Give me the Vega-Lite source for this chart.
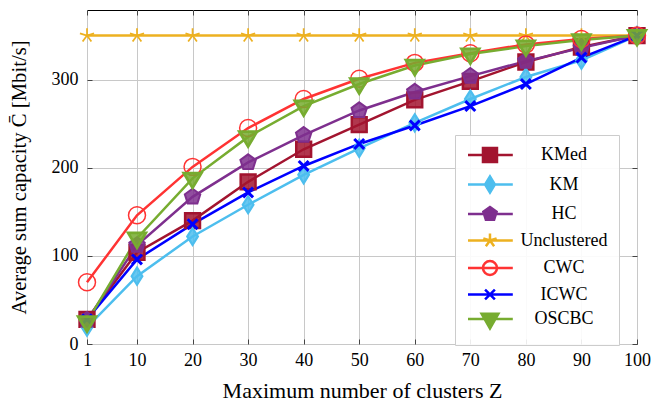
{
  "$schema": "https://vega.github.io/schema/vega-lite/v6.json",
  "width": 550,
  "height": 334,
  "autosize": {"type": "none"},
  "padding": {"left": 87, "top": 10, "right": 15, "bottom": 59},
  "background": "white",
  "config": {
    "font": "Liberation Serif",
    "view": {"stroke": "black", "strokeWidth": 1},
    "axis": {
      "labelFont": "Liberation Serif",
      "titleFont": "Liberation Serif",
      "labelFontSize": 18,
      "titleFontSize": 22,
      "titleFontWeight": "normal",
      "labelColor": "black",
      "titleColor": "black",
      "domain": false,
      "labelFlush": false,
      "gridColor": "#c8c8c8",
      "gridWidth": 1,
      "tickColor": "#444444",
      "tickSize": -5
    },
    "legend": {
      "labelFont": "Liberation Serif",
      "labelFontSize": 18,
      "labelColor": "black"
    }
  },
  "resolve": {"axis": {"x": "independent", "y": "independent"}},
  "data": {
    "values": [
      {"Z": 1, "method": "KMed", "C": 28}, {"Z": 10, "method": "KMed", "C": 104}, {"Z": 20, "method": "KMed", "C": 140}, {"Z": 30, "method": "KMed", "C": 184}, {"Z": 40, "method": "KMed", "C": 221}, {"Z": 50, "method": "KMed", "C": 249}, {"Z": 60, "method": "KMed", "C": 277}, {"Z": 70, "method": "KMed", "C": 298}, {"Z": 80, "method": "KMed", "C": 320}, {"Z": 90, "method": "KMed", "C": 337}, {"Z": 100, "method": "KMed", "C": 350},
      {"Z": 1, "method": "KM", "C": 19}, {"Z": 10, "method": "KM", "C": 77}, {"Z": 20, "method": "KM", "C": 122}, {"Z": 30, "method": "KM", "C": 158}, {"Z": 40, "method": "KM", "C": 192}, {"Z": 50, "method": "KM", "C": 222}, {"Z": 60, "method": "KM", "C": 251}, {"Z": 70, "method": "KM", "C": 278}, {"Z": 80, "method": "KM", "C": 303}, {"Z": 90, "method": "KM", "C": 322}, {"Z": 100, "method": "KM", "C": 350},
      {"Z": 1, "method": "HC", "C": 27}, {"Z": 10, "method": "HC", "C": 112}, {"Z": 20, "method": "HC", "C": 167}, {"Z": 30, "method": "HC", "C": 206}, {"Z": 40, "method": "HC", "C": 237}, {"Z": 50, "method": "HC", "C": 265}, {"Z": 60, "method": "HC", "C": 286}, {"Z": 70, "method": "HC", "C": 304}, {"Z": 80, "method": "HC", "C": 321}, {"Z": 90, "method": "HC", "C": 336}, {"Z": 100, "method": "HC", "C": 350},
      {"Z": 1, "method": "Unclustered", "C": 350}, {"Z": 10, "method": "Unclustered", "C": 350}, {"Z": 20, "method": "Unclustered", "C": 350}, {"Z": 30, "method": "Unclustered", "C": 350}, {"Z": 40, "method": "Unclustered", "C": 350}, {"Z": 50, "method": "Unclustered", "C": 350}, {"Z": 60, "method": "Unclustered", "C": 350}, {"Z": 70, "method": "Unclustered", "C": 350}, {"Z": 80, "method": "Unclustered", "C": 350}, {"Z": 90, "method": "Unclustered", "C": 350}, {"Z": 100, "method": "Unclustered", "C": 350},
      {"Z": 1, "method": "CWC", "C": 70}, {"Z": 10, "method": "CWC", "C": 146}, {"Z": 20, "method": "CWC", "C": 201}, {"Z": 30, "method": "CWC", "C": 245}, {"Z": 40, "method": "CWC", "C": 278}, {"Z": 50, "method": "CWC", "C": 301}, {"Z": 60, "method": "CWC", "C": 319}, {"Z": 70, "method": "CWC", "C": 330}, {"Z": 80, "method": "CWC", "C": 340}, {"Z": 90, "method": "CWC", "C": 346}, {"Z": 100, "method": "CWC", "C": 350},
      {"Z": 1, "method": "ICWC", "C": 28}, {"Z": 10, "method": "ICWC", "C": 96}, {"Z": 20, "method": "ICWC", "C": 136}, {"Z": 30, "method": "ICWC", "C": 172}, {"Z": 40, "method": "ICWC", "C": 202}, {"Z": 50, "method": "ICWC", "C": 227}, {"Z": 60, "method": "ICWC", "C": 248}, {"Z": 70, "method": "ICWC", "C": 270}, {"Z": 80, "method": "ICWC", "C": 295}, {"Z": 90, "method": "ICWC", "C": 325}, {"Z": 100, "method": "ICWC", "C": 350},
      {"Z": 1, "method": "OSCBC", "C": 25}, {"Z": 10, "method": "OSCBC", "C": 120}, {"Z": 20, "method": "OSCBC", "C": 188}, {"Z": 30, "method": "OSCBC", "C": 235}, {"Z": 40, "method": "OSCBC", "C": 270}, {"Z": 50, "method": "OSCBC", "C": 295}, {"Z": 60, "method": "OSCBC", "C": 316}, {"Z": 70, "method": "OSCBC", "C": 329}, {"Z": 80, "method": "OSCBC", "C": 338}, {"Z": 90, "method": "OSCBC", "C": 345}, {"Z": 100, "method": "OSCBC", "C": 350}
    ]
  },
  "layer": [
    {
      "mark": {"type": "line", "strokeWidth": 2.5, "clip": false},
      "encoding": {
        "x": {
          "field": "Z", "type": "quantitative",
          "scale": {"domain": [1, 100], "nice": false, "zero": false},
          "axis": {"values": [1, 10, 20, 30, 40, 50, 60, 70, 80, 90, 100], "title": "Maximum number of clusters Z", "labelPadding": 12, "titlePadding": 11}
        },
        "y": {
          "field": "C", "type": "quantitative",
          "scale": {"domain": [0, 379], "nice": false},
          "axis": {"values": [0, 100, 200, 300], "title": "Average sum capacity C̄ [Mbit/s]", "labelPadding": 14, "titlePadding": 22, "titleFontSize": 20.7}
        },
        "stroke": {
          "field": "method", "type": "nominal",
          "scale": {
            "domain": ["KMed", "KM", "HC", "Unclustered", "CWC", "ICWC", "OSCBC"],
            "range": ["#a2142f", "#4dbeee", "#7e2f8e", "#edb120", "#ff3333", "#0000ff", "#77ac30"]
          },
          "legend": {
            "title": null,
            "orient": "none",
            "legendX": 368,
            "legendY": 125,
            "padding": 11,
            "fillColor": "rgba(255,255,255,0.9)",
            "strokeColor": "#cccccc",
            "symbolSize": 196,
            "symbolStrokeWidth": 2.5,
            "symbolType": {"expr": "datum.value === 'KMed' ? 'M-1,0H5.4M1.14,-1H3.14V1H1.14Z' : datum.value === 'KM' ? 'M-1,0H5.4M2.14,-1.15L2.84,0L2.14,1.15L1.44,0Z' : datum.value === 'HC' ? 'M-1,0H5.4M2.14,-1L3.09,-0.31L2.73,0.81L1.55,0.81L1.19,-0.31Z' : datum.value === 'Unclustered' ? 'M-1,0H5.4M2.14,0V-1M2.14,0L3.09,-0.31M2.14,0L2.73,0.81M2.14,0L1.55,0.81M2.14,0L1.19,-0.31' : datum.value === 'CWC' ? 'M-1,0H5.4M3.14,0A1,1,0,1,1,1.14,0A1,1,0,1,1,3.14,0' : datum.value === 'ICWC' ? 'M-1,0H5.4M1.44,-0.7L2.84,0.7M1.44,0.7L2.84,-0.7' : 'M-1,0H5.4M0.94,-0.75L3.34,-0.75L2.14,1.35Z'"},
            "labelAlign": "center",
            "labelOffset": 80,
            "rowPadding": 3.5
          }
        }
      }
    },
    {
      "mark": {"type": "point", "clip": false, "opacity": 1, "fillOpacity": 0.85},
      "encoding": {
        "x": {
          "field": "Z", "type": "quantitative",
          "axis": {"orient": "top", "values": [1, 10, 20, 30, 40, 50, 60, 70, 80, 90, 100], "labels": false, "grid": false, "title": null}
        },
        "y": {
          "field": "C", "type": "quantitative",
          "axis": {"orient": "right", "values": [0, 100, 200, 300], "labels": false, "grid": false, "title": null}
        },
        "stroke": {"field": "method", "type": "nominal"},
        "fill": {
          "field": "method", "type": "nominal",
          "scale": {
            "domain": ["KMed", "KM", "HC", "Unclustered", "CWC", "ICWC", "OSCBC"],
            "range": ["#a2142f", "#4dbeee", "#7e2f8e", "transparent", "transparent", "transparent", "#77ac30"]
          },
          "legend": null
        },
        "shape": {
          "field": "method", "type": "nominal",
          "scale": {
            "domain": ["OSCBC", "ICWC", "CWC", "Unclustered", "HC", "KM", "KMed"],
            "range": ["M-1.25,-0.75L1.25,-0.75L0,1.35Z", "M-0.7,-0.7L0.7,0.7M-0.7,0.7L0.7,-0.7", "M1.2,0A1.2,1.2,0,1,1,-1.2,0A1.2,1.2,0,1,1,1.2,0", "M0,0L0,-1.05M0,0L1,-0.32M0,0L0.62,0.85M0,0L-0.62,0.85M0,0L-1,-0.32", "M0,-1.15L1.09,-0.36L0.68,0.93L-0.68,0.93L-1.09,-0.36Z", "M0,-1.2L0.75,0L0,1.2L-0.75,0Z", "M-1.05,-1.05H1.05V1.05H-1.05Z"]
          },
          "legend": null
        },
        "strokeWidth": {
          "field": "method", "type": "nominal",
          "scale": {
            "domain": ["ICWC", "OSCBC", "KMed", "KM", "HC", "Unclustered", "CWC"],
            "range": [3, 1.5, 1.5, 1.5, 1.5, 2.5, 2.5]
          },
          "legend": null
        },
        "size": {"value": 200}
      }
    }
  ]
}
